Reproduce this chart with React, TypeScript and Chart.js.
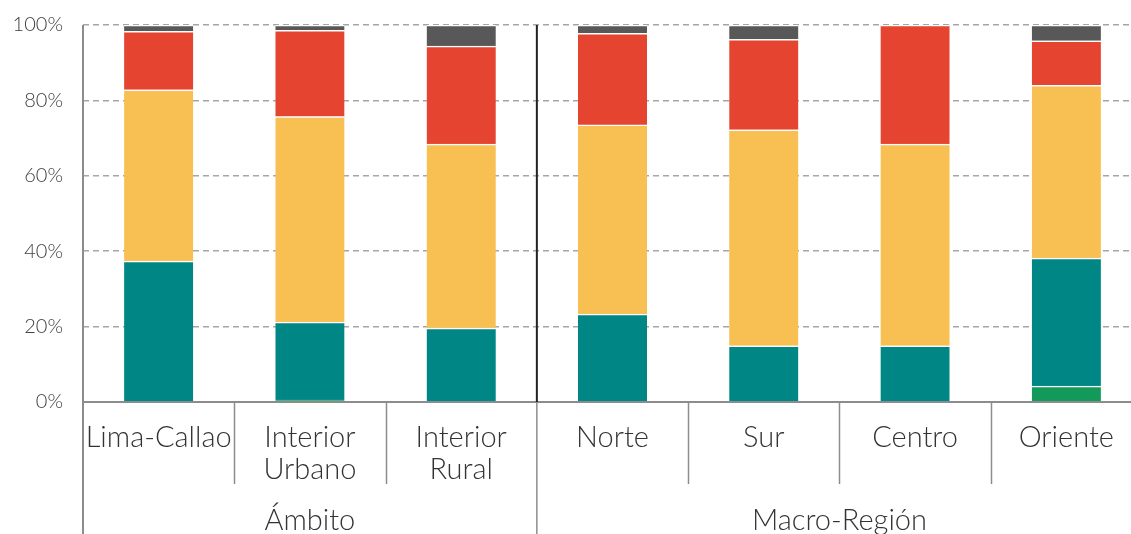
import React, { useEffect, useRef } from "react";
import { Chart, registerables } from "chart.js";

Chart.register(...registerables);

const categories: string[][] = [
  ["Lima-Callao"],
  ["Interior", "Urbano"],
  ["Interior", "Rural"],
  ["Norte"],
  ["Sur"],
  ["Centro"],
  ["Oriente"],
];
const groupLabels = ["Ámbito", "Macro-Región"];
const groupSizes = [3, 4];

const greenValues = [0, 0.5, 0, 0, 0, 0, 4.2];
const tealValues = [37.4, 20.7, 19.6, 23.3, 14.9, 14.9, 34.0];
const yellowValues = [45.4, 54.5, 48.8, 50.2, 57.3, 53.5, 45.8];
const redValues = [15.5, 22.9, 26.0, 24.3, 24.0, 31.6, 11.8];
const grayValues = [1.7, 1.4, 5.6, 2.2, 3.8, 0, 4.2];

const yTicks = [0, 20, 40, 60, 80, 100];

const FONT = "Lato, 'Open Sans', sans-serif";

const axisPlugin = {
  id: "customAxis",
  afterDraw(chart: any) {
    const ctx = chart.ctx;
    const x = chart.scales.x;
    const area = chart.chartArea;
    const H = chart.height;
    const step = x.getPixelForValue(1) - x.getPixelForValue(0);
    ctx.save();
    // x axis line
    ctx.strokeStyle = "#8c8c8c";
    ctx.lineWidth = 2;
    ctx.beginPath();
    ctx.moveTo(area.left, area.bottom);
    ctx.lineTo(area.right, area.bottom);
    ctx.stroke();
    // y axis line
    ctx.beginPath();
    ctx.moveTo(area.left, area.top);
    ctx.lineTo(area.left, H);
    ctx.stroke();

    // category labels and separators
    ctx.fillStyle = "#333333";
    ctx.font = `300 29px ${FONT}`;
    ctx.textAlign = "center";
    ctx.textBaseline = "middle";
    categories.forEach((lines, i) => {
      const cx = x.getPixelForValue(i);
      lines.forEach((ln, j) => {
        ctx.fillText(ln, cx, area.bottom + 36 + j * 32);
      });
    });

    let idx = 0;
    groupSizes.forEach((size, g) => {
      const start = x.getPixelForValue(idx) - step / 2;
      const end = x.getPixelForValue(idx + size - 1) + step / 2;
      // inner separators
      ctx.strokeStyle = "#8c8c8c";
      ctx.lineWidth = 1.5;
      for (let k = 1; k < size; k++) {
        const sx = Math.round(start + k * step) + 0.5;
        ctx.beginPath();
        ctx.moveTo(sx, area.bottom);
        ctx.lineTo(sx, area.bottom + 82);
        ctx.stroke();
      }
      // group boundary
      if (g > 0) {
        ctx.lineWidth = 1.5;
        ctx.beginPath();
        ctx.moveTo(start, area.bottom);
        ctx.lineTo(start, H);
        ctx.stroke();
        ctx.strokeStyle = "#222222";
        ctx.lineWidth = 2;
        ctx.beginPath();
        ctx.moveTo(start, area.top);
        ctx.lineTo(start, area.bottom);
        ctx.stroke();
      }
      ctx.fillStyle = "#333333";
      ctx.fillText(groupLabels[g], (start + end) / 2, area.bottom + 119);
      idx += size;
    });
    ctx.restore();
  },
};

export default function App() {
  const ref = useRef<HTMLCanvasElement>(null);
  useEffect(() => {
    if (!ref.current) return;
    const mk = (label: string, data: number[], color: string) => ({
      label,
      data,
      backgroundColor: color,
      borderColor: "#ffffff",
      borderWidth: { top: 1.5, left: 0, right: 0, bottom: 0 },
      borderSkipped: false,
      barThickness: 69,
    });
    const chart = new Chart(ref.current, {
      type: "bar",
      data: {
        labels: categories.map((c) => c.join(" ")),
        datasets: [
          mk("Verde", greenValues, "#139a5b"),
          mk("Turquesa", tealValues, "#008684"),
          mk("Amarillo", yellowValues, "#f8bf52"),
          mk("Rojo", redValues, "#e54431"),
          mk("Gris", grayValues, "#585858"),
        ],
      },
      options: {
        responsive: false,
        animation: false,
        layout: { padding: { top: 25, right: 3, left: 0, bottom: 0 } },
        plugins: { legend: { display: false }, tooltip: { enabled: false } },
        scales: {
          x: {
            stacked: true,
            grid: { display: false },
            border: { display: false },
            ticks: { display: false },
            afterFit: (s: any) => {
              s.height = 132;
              s.paddingLeft = 0;
              s.paddingRight = 0;
            },
          },
          y: {
            stacked: true,
            min: 0,
            max: 100,
            afterBuildTicks: (s: any) => {
              s.ticks = yTicks.map((v) => ({ value: v }));
            },
            afterFit: (s: any) => {
              s.width = 83;
              s.paddingTop = 0;
              s.paddingBottom = 0;
            },
            grid: {
              color: "#a6a6a6",
              lineWidth: 1.5,
              drawTicks: false,
            },
            border: { display: false, dash: [6, 4] },
            ticks: {
              padding: 20,
              color: "#404040",
              font: { size: 20, family: FONT, weight: "300" },
              callback: (v: any) => `${v}%`,
            },
          },
        },
      },
      plugins: [axisPlugin],
    });
    return () => chart.destroy();
  }, []);
  return (
    <div
      style={{
        position: "absolute",
        left: 0,
        top: 0,
        width: 1131,
        height: 534,
        overflow: "hidden",
        background: "#fff",
      }}
    >
      <canvas ref={ref} width={1145} height={534} />
    </div>
  );
}
